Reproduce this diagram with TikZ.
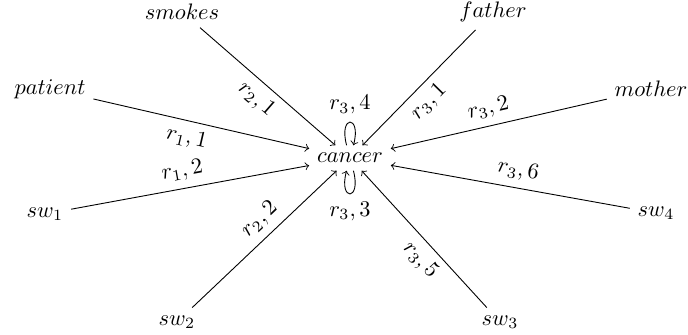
\documentclass[tikz,border=0pt]{standalone}
\usetikzlibrary{positioning}
\begin{document}
\begin{tikzpicture}[
    x=0.01569cm, y=0.01569cm,
    var/.style={inner sep=3.33pt},
    rel/.style={->},
    lab/.style={sloped}
]
\useasboundingbox (0,0) rectangle (688,334);

\node[var] (cancer) at (350,176) {$cancer$};

\node[var] (patient) at (50,245) {$patient$};
\node[var] (smokes) at (182,322) {$smokes$};
\node[var] (father) at (493,322) {$father$};
\node[var] (mother) at (651,245) {$mother$};
\node[var] (sw1) at (45,120) {$sw_1$};
\node[var] (sw2) at (177,12) {$sw_2$};
\node[var] (sw3) at (500,12) {$sw_3$};
\node[var] (sw4) at (656,121) {$sw_4$};

\draw[rel] (patient) -- node[lab, below, pos=0.45] {$r_1, 1$} (cancer);
\draw[rel] (smokes) -- node[lab, below, pos=0.5] {$r_2, 1$} (cancer);
\draw[rel] (father) -- node[lab, below, pos=0.52] {$r_3, 1$} (cancer);
\draw[rel] (mother) -- node[lab, above, pos=0.53] {$r_3, 2$} (cancer);
\draw[rel] (sw1) -- node[lab, above, pos=0.48] {$r_1, 2$} (cancer);
\draw[rel] (sw2) -- node[lab, above, pos=0.55] {$r_2, 2$} (cancer);
\draw[rel] (sw3) -- node[lab, below, pos=0.43] {$r_3, 5$} (cancer);
\draw[rel] (sw4) -- node[lab, above, pos=0.48] {$r_3, 6$} (cancer);

\draw[rel] (cancer) to[loop above] node[above] {$r_3, 4$} (cancer);
\draw[rel] (cancer) to[loop below] node[below] {$r_3, 3$} (cancer);

\end{tikzpicture}
\end{document}
